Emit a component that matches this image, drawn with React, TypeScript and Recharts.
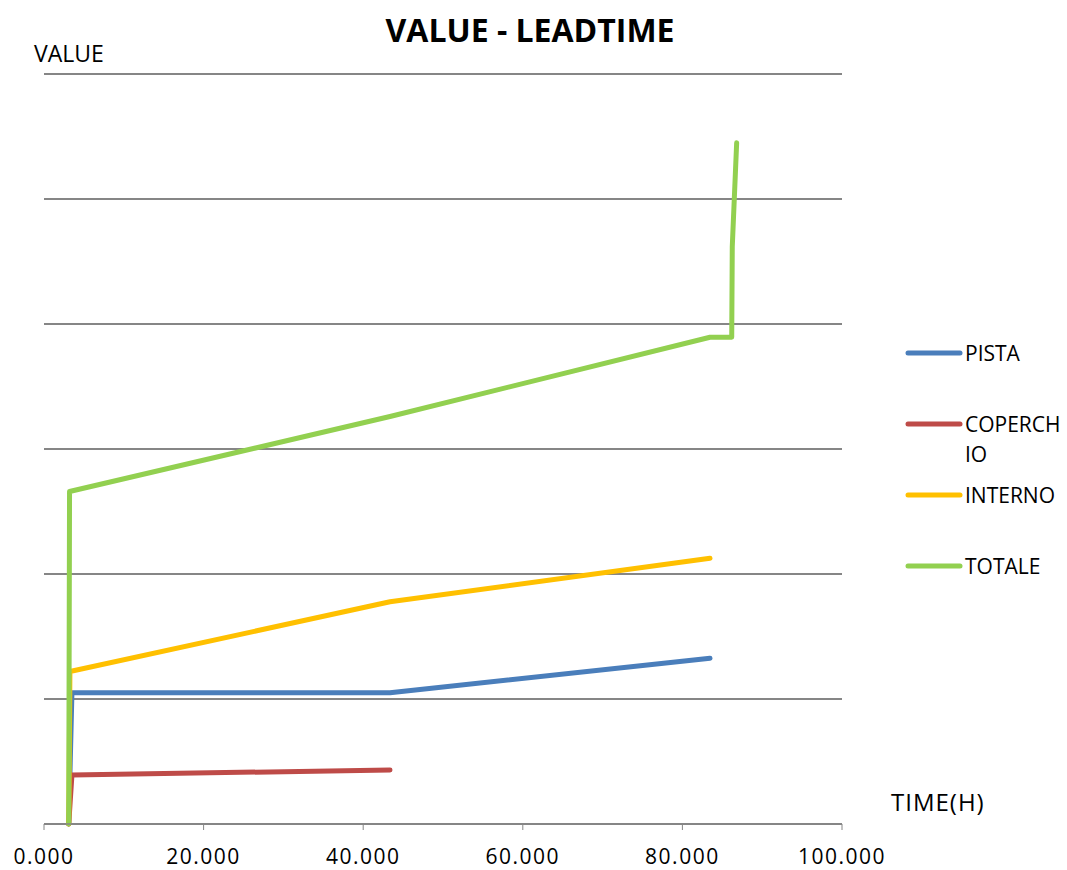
import React from "react";
import { LineChart, Line, XAxis, YAxis, CartesianGrid, Legend } from "recharts";

// Lead time (hours) vs cumulative value for each component
const pistaData = [
  { x: 3.1, y: 0 },
  { x: 3.5, y: 1.05 },
  { x: 43.36, y: 1.05 },
  { x: 83.46, y: 1.326 },
];

const coperchioData = [
  { x: 3.1, y: 0 },
  { x: 3.5, y: 0.392 },
  { x: 43.36, y: 0.432 },
];

const internoData = [
  { x: 3.1, y: 0 },
  { x: 3.25, y: 1.22 },
  { x: 43.36, y: 1.778 },
  { x: 83.46, y: 2.126 },
];

const totaleData = [
  { x: 3.1, y: 0 },
  { x: 3.2, y: 2.66 },
  { x: 43.36, y: 3.26 },
  { x: 83.46, y: 3.894 },
  { x: 86.18, y: 3.894 },
  { x: 86.25, y: 4.62 },
  { x: 86.8, y: 5.45 },
];

const xTicks = [0, 20, 40, 60, 80, 100];
const yTicks = [0, 1, 2, 3, 4, 5, 6];

const series = [
  { name: "PISTA", data: pistaData, color: "#4A7EBB" },
  { name: "COPERCHIO", data: coperchioData, color: "#BE4B48" },
  { name: "INTERNO", data: internoData, color: "#FFC000" },
  { name: "TOTALE", data: totaleData, color: "#92D050" },
];

const FONT = "'Open Sans', 'DejaVu Sans', sans-serif";
const GRID = "#868686";

// Legend rows in series order, fixed row pitch, long names wrap
const renderLegend = () => (
  <div style={{ fontFamily: FONT }}>
    {series.map((s) => (
      <div key={s.name} style={{ display: "flex", alignItems: "flex-start", height: 71 }}>
        <svg width={62} height={30} style={{ flex: "none" }}>
          <line x1={5} y1={15} x2={57} y2={15} stroke={s.color} strokeWidth={5} strokeLinecap="round" />
        </svg>
        <span
          style={{
            fontSize: 21,
            lineHeight: "30px",
            width: 98,
            wordBreak: "break-all",
            color: "#000",
          }}
        >
          {s.name}
        </span>
      </div>
    ))}
  </div>
);

export default function App() {
  return (
    <div style={{ position: "absolute", left: 0, top: 0, width: 1067, height: 870, background: "#fff" }}>
      <div
        style={{
          position: "absolute",
          left: 0,
          width: 1060,
          top: 9,
          textAlign: "center",
          fontFamily: FONT,
          fontWeight: 700,
          fontSize: 32,
          lineHeight: "42px",
          color: "#000",
        }}
      >
        VALUE - LEADTIME
      </div>
      <div style={{ position: "absolute", left: 34, top: 37, fontFamily: FONT, fontSize: 23, lineHeight: "32px" }}>
        VALUE
      </div>
      <div
        style={{
          position: "absolute",
          left: 891,
          top: 786,
          fontFamily: FONT,
          fontSize: 24,
          letterSpacing: 1,
          lineHeight: "32px",
        }}
      >
        TIME(H)
      </div>
      <LineChart
        width={1067}
        height={870}
        margin={{ top: 74, right: 225, left: 44, bottom: 0 }}
        style={{ position: "absolute", left: 0, top: 0 }}
      >
        <CartesianGrid vertical={false} stroke={GRID} strokeWidth={2} />
        <XAxis
          type="number"
          dataKey="x"
          domain={[0, 100]}
          ticks={xTicks}
          tickFormatter={(v: number) => v.toFixed(3)}
          height={46}
          axisLine={{ stroke: GRID, strokeWidth: 1.5 }}
          tickLine={{ stroke: GRID, strokeWidth: 1 }}
          tickSize={6}
          tickMargin={19}
          tick={{ fill: "#000", fontSize: 21, fontFamily: FONT, letterSpacing: 1.5 }}
          interval={0}
          allowDataOverflow
        />
        <YAxis type="number" domain={[0, 6]} ticks={yTicks} hide width={0} />
        <Legend
          layout="vertical"
          align="center"
          verticalAlign="middle"
          content={renderLegend}
          wrapperStyle={{ left: 903, top: 338, width: 164 }}
        />
        {series.map((s) => (
          <Line
            key={s.name}
            name={s.name}
            data={s.data}
            dataKey="y"
            type="linear"
            stroke={s.color}
            strokeWidth={5}
            strokeLinecap="round"
            strokeLinejoin="round"
            dot={false}
            activeDot={false}
            isAnimationActive={false}
          />
        ))}
      </LineChart>
    </div>
  );
}
